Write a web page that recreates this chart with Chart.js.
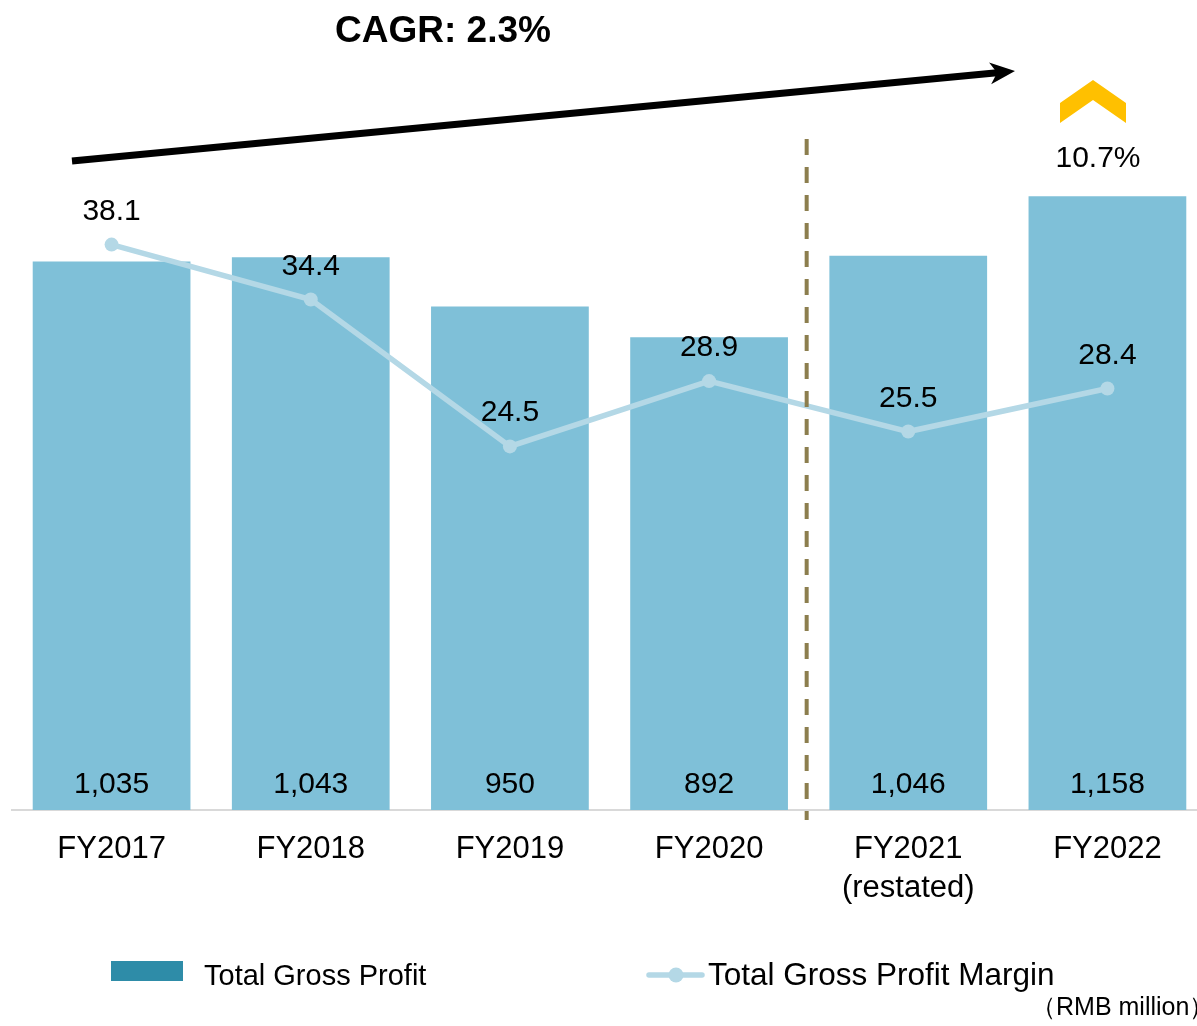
<!DOCTYPE html>
<html>
<head>
<meta charset="utf-8">
<script src="https://cdn.jsdelivr.net/npm/chart.js@4.4.1/dist/chart.umd.min.js"></script>
<style>
  html, body { margin: 0; padding: 0; background: #fff; overflow: hidden; }
  #wrap { width: 1214px; height: 1026px; }
</style>
</head>
<body>
<div id="wrap"><canvas id="myChart" width="1214" height="1026"></canvas></div>
<script>
const categories = ['FY2017', 'FY2018', 'FY2019', 'FY2020', ['FY2021', '(restated)'], 'FY2022'];
const grossProfit = [1035, 1043, 950, 892, 1046, 1158];
const grossMargin = [38.1, 34.4, 24.5, 28.9, 25.5, 28.4];
const cagrText = 'CAGR: 2.3%';
const growthText = '10.7%';

const FONT = '"Liberation Sans", Arial, sans-serif';
const BAR_COLOR = '#7FC0D8';
const LINE_COLOR = '#B4D8E6';

// labels, arrow, divider and legend
const decorations = {
    id: 'decorations',
    afterDatasetsDraw(chart) {
        const ctx = chart.ctx;
        const x = chart.scales.x;
        ctx.save();

        // bar values
        ctx.fillStyle = '#000';
        ctx.textAlign = 'center';
        ctx.textBaseline = 'alphabetic';
        ctx.font = '30px ' + FONT;
        chart.getDatasetMeta(1).data.forEach((bar, i) => {
            ctx.fillText(grossProfit[i].toLocaleString('en-US'), bar.x, bar.base - 17);
        });
        // margin values
        chart.getDatasetMeta(0).data.forEach((pt, i) => {
            ctx.fillText(grossMargin[i].toFixed(1), pt.x, pt.y - 25);
        });

        // restated divider
        const xd = (x.getPixelForValue(3) + x.getPixelForValue(4)) / 2 - 2;
        ctx.strokeStyle = '#8C7E4E';
        ctx.lineWidth = 4;
        ctx.setLineDash([16, 12]);
        ctx.beginPath();
        ctx.moveTo(xd, 139);
        ctx.lineTo(xd, 820);
        ctx.stroke();
        ctx.setLineDash([]);

        // CAGR arrow
        const x0 = 72, y0 = 161, tx = 1015, ty = 71;
        const ang = Math.atan2(ty - y0, tx - x0);
        const ux = Math.cos(ang), uy = Math.sin(ang);
        const nx = -uy, ny = ux;
        const L = 25, W = 11, notch = 7;
        ctx.strokeStyle = '#000';
        ctx.lineWidth = 7;
        ctx.beginPath();
        ctx.moveTo(x0, y0);
        ctx.lineTo(tx - (L - notch) * ux, ty - (L - notch) * uy);
        ctx.stroke();
        ctx.fillStyle = '#000';
        ctx.beginPath();
        ctx.moveTo(tx, ty);
        ctx.lineTo(tx - L * ux + W * nx, ty - L * uy + W * ny);
        ctx.lineTo(tx - (L - notch) * ux, ty - (L - notch) * uy);
        ctx.lineTo(tx - L * ux - W * nx, ty - L * uy - W * ny);
        ctx.closePath();
        ctx.fill();

        ctx.font = 'bold 37px ' + FONT;
        ctx.fillText(cagrText, 443, 42);

        // growth chevron
        ctx.fillStyle = '#FFC000';
        ctx.beginPath();
        ctx.moveTo(1060, 103);
        ctx.lineTo(1093, 80);
        ctx.lineTo(1126, 103);
        ctx.lineTo(1126, 123);
        ctx.lineTo(1093, 100);
        ctx.lineTo(1060, 123);
        ctx.closePath();
        ctx.fill();
        ctx.fillStyle = '#000';
        ctx.font = '30px ' + FONT;
        ctx.fillText(growthText, 1098, 167);

        // legend
        ctx.textAlign = 'left';
        ctx.fillStyle = '#2E8CA8';
        ctx.fillRect(111, 961, 72, 20);
        ctx.fillStyle = '#000';
        ctx.font = '29px ' + FONT;
        ctx.fillText(chart.data.datasets[1].label, 204, 985);

        ctx.strokeStyle = LINE_COLOR;
        ctx.lineWidth = 5.5;
        ctx.lineCap = 'round';
        ctx.beginPath();
        ctx.moveTo(649, 975);
        ctx.lineTo(702, 975);
        ctx.stroke();
        ctx.fillStyle = LINE_COLOR;
        ctx.beginPath();
        ctx.arc(676, 975, 7.5, 0, Math.PI * 2);
        ctx.fill();
        ctx.fillStyle = '#000';
        ctx.font = '31.5px ' + FONT;
        ctx.fillText(chart.data.datasets[0].label, 708, 985);

        ctx.font = '25px ' + FONT;
        ctx.fillText('（RMB million）', 1031, 1015);

        ctx.restore();
    }
};

new Chart(document.getElementById('myChart'), {
    data: {
        labels: categories,
        datasets: [{
            type: 'line',
            label: 'Total Gross Profit Margin',
            data: grossMargin,
            yAxisID: 'y1',
            borderColor: LINE_COLOR,
            backgroundColor: LINE_COLOR,
            pointBackgroundColor: LINE_COLOR,
            pointBorderWidth: 0,
            pointRadius: 7,
            borderWidth: 5.5,
            tension: 0,
            order: 0
        }, {
            type: 'bar',
            label: 'Total Gross Profit',
            data: grossProfit,
            yAxisID: 'y',
            backgroundColor: BAR_COLOR,
            categoryPercentage: 1,
            barPercentage: 0.792,
            order: 1
        }]
    },
    options: {
        responsive: false,
        animation: false,
        devicePixelRatio: 1,
        layout: { padding: { left: 12, right: 2, top: 120, bottom: 98 } },
        plugins: {
            legend: { display: false },
            tooltip: { enabled: false }
        },
        scales: {
            x: {
                grid: { display: false, drawTicks: false },
                border: { display: true, color: '#D9D9D9', width: 2 },
                ticks: {
                    color: '#000',
                    padding: 20,
                    maxRotation: 0,
                    autoSkip: false,
                    font: { family: FONT, size: 31, lineHeight: 1.26 }
                }
            },
            y: { display: false, min: 0, max: 1302 },
            y1: { display: false, min: 0, max: 46.5, position: 'right' }
        }
    },
    plugins: [decorations]
});
</script>
</body>
</html>
